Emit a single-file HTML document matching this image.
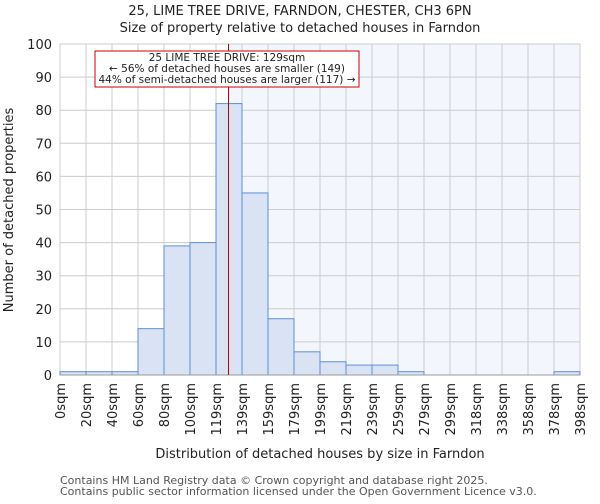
<!DOCTYPE html>
<html><head><meta charset="utf-8"><style>
body{margin:0;background:#fff;font-family:"DejaVu Sans","Liberation Sans",sans-serif;}
svg text{font-family:"DejaVu Sans","Liberation Sans",sans-serif;fill:#222;}
</style></head><body>
<svg id="chart" width="600" height="500" xmlns="http://www.w3.org/2000/svg">
<text x="300" y="15" text-anchor="middle" font-size="13">25, LIME TREE DRIVE, FARNDON, CHESTER, CH3 6PN</text>
<text x="300" y="32" text-anchor="middle" font-size="13">Size of property relative to detached houses in Farndon</text>
<g id="plot"></g>
<text transform="translate(13,210) rotate(-90)" text-anchor="middle" font-size="13">Number of detached properties</text>
<text x="320" y="458" text-anchor="middle" font-size="13">Distribution of detached houses by size in Farndon</text>
<text x="60" y="484" font-size="11" style="fill:#555">Contains HM Land Registry data © Crown copyright and database right 2025.</text>
<text x="60" y="495" font-size="11" style="fill:#555">Contains public sector information licensed under the Open Government Licence v3.0.</text>
</svg>
<script>
const categories=["0sqm","20sqm","40sqm","60sqm","80sqm","100sqm","119sqm","139sqm","159sqm","179sqm","199sqm","219sqm","239sqm","259sqm","279sqm","299sqm","318sqm","338sqm","358sqm","378sqm","398sqm"];
const counts=[1,1,1,14,39,40,82,55,17,7,4,3,3,1,0,0,0,0,0,1];
const yTicks=[0,10,20,30,40,50,60,70,80,90,100];
const propertySize=129;
const xMax=398;
const NS="http://www.w3.org/2000/svg";
const L=60,R=580,T=44,B=375;
const bw=(R-L)/counts.length;
const xs=i=>L+i*bw;
const xv=v=>L+v/xMax*(R-L);
const ys=v=>B-v/100*(B-T);
const g=document.getElementById('plot');
function mk(t,a){const e=document.createElementNS(NS,t);for(const k in a)e.setAttribute(k,a[k]);g.appendChild(e);return e;}
const px=xv(propertySize);
let e=mk('rect',{x:px,y:T,width:R-px,height:B-T,fill:'#f3f6fd'});


yTicks.forEach(v=>{const l=mk('line',{x1:L,x2:R,y1:ys(v),y2:ys(v),stroke:'#cccccc'});


const t=mk('text',{x:L-8,y:ys(v)+5,'text-anchor':'end','font-size':'13'});t.textContent=v;

});
categories.forEach((c,i)=>{const l=mk('line',{x1:xs(i),x2:xs(i),y1:T,y2:B,stroke:'#cccccc'});


const t=mk('text',{transform:`translate(${xs(i)+5},${B+8}) rotate(-90)`,'text-anchor':'end','font-size':'13'});t.textContent=c;

});
counts.forEach((v,i)=>{const r=mk('rect',{x:xs(i),y:ys(v),width:bw,height:B-ys(v),fill:'#dae3f3',stroke:'#5b8fd9','stroke-width':1});

});
e=mk('line',{x1:L,x2:R,y1:B,y2:B,stroke:'#999'});


e=mk('line',{x1:px,x2:px,y1:T,y2:B,stroke:'#aa0000','stroke-width':1});


e=mk('rect',{x:95,y:51,width:264,height:36,fill:'#fff',stroke:'#cc0000'});


[["25 LIME TREE DRIVE: 129sqm",61],["← 56% of detached houses are smaller (149)",72],["44% of semi-detached houses are larger (117) →",83]].forEach(([s,y])=>{const t=mk('text',{x:227,y:y,'text-anchor':'middle','font-size':'10.5'});t.textContent=s;

});
</script>
</body></html>
